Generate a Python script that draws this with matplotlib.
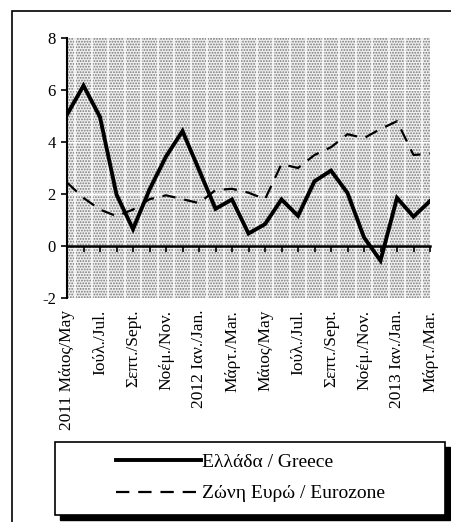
import matplotlib
matplotlib.use('Agg')
import matplotlib.pyplot as plt
from matplotlib.patches import Rectangle

plt.rcParams['font.family'] = ['Liberation Serif', 'DejaVu Serif']
plt.rcParams['axes.unicode_minus'] = False
plt.rcParams['hatch.color'] = '#787878'
plt.rcParams['hatch.linewidth'] = 0.9

# monthly values, May 2011 - Mar 2013
greece = [5.05, 6.17, 4.96, 1.98, 0.65, 2.17, 3.44, 4.42, 2.93, 1.43, 1.79, 0.48,
          0.84, 1.79, 1.16, 2.49, 2.90, 2.04, 0.33, -0.56, 1.85, 1.13, 1.73]
eurozone = [2.44, 1.85, 1.40, 1.15, 1.40, 1.80, 1.95, 1.80, 1.65, 2.15, 2.20, 2.05,
            1.80, 3.15, 3.00, 3.50, 3.80, 4.30, 4.15, 4.50, 4.80, 3.50, 3.55]
month_labels = ['2011 Μάιος/May', 'Ιούλ./Jul.', 'Σεπτ./Sept.', 'Νοέμ./Nov.',
                '2012 Ιαν./Jan.', 'Μάρτ./Mar.', 'Μάιος/May', 'Ιούλ./Jul.',
                'Σεπτ./Sept.', 'Νοέμ./Nov.', '2013 Ιαν./Jan.', 'Μάρτ./Mar.']
series_names = ['Ελλάδα / Greece', 'Ζώνη Ευρώ / Eurozone']

x = list(range(len(greece)))

fig = plt.figure(figsize=(4.51, 5.22), dpi=100)
ax = fig.add_axes([67/451, 1-298/522, (430-67)/451, (298-38)/522])

# dotted background with faint white stripes
ax.axvspan(x[0], x[-1], facecolor='#f0f0f0', hatch='......', edgecolor='#787878', lw=0, zorder=0)
for i in x[:-1]:
    ax.axvline(i + 0.5, color='white', lw=1.1, zorder=0.5)
for yy in [2, 4, 6]:
    ax.axhline(yy, color='white', lw=0.8, zorder=0.5)

ax.plot(x, greece, color='black', lw=2.8, solid_joinstyle='miter', zorder=3, label=series_names[0])
ax.plot(x, eurozone, color='black', lw=1.6, dashes=(6, 4), zorder=3, label=series_names[1])

ax.set_xlim(x[0], x[-1])
ax.set_ylim(-2, 8)
ax.set_yticks([-2, 0, 2, 4, 6, 8])
ax.tick_params(axis='y', direction='out', length=4, width=1.2, pad=4, labelsize=12)

ax.spines['top'].set_visible(False)
ax.spines['right'].set_visible(False)
ax.spines['left'].set_linewidth(1.5)
ax.spines['bottom'].set_position(('data', 0))
ax.spines['bottom'].set_linewidth(1.8)

ax.set_xticks(x[::2], month_labels, rotation=90)
ax.set_xticks(x[1::2], minor=True)
ax.tick_params(axis='x', which='both', direction='out', length=4, width=1.2)
ax.tick_params(axis='x', which='major', pad=42, labelsize=12.5)

# outer frame
fig.patches.append(Rectangle((12/451, -0.05), 1.2, 1-11/522+0.05, transform=fig.transFigure,
                             fill=False, edgecolor='black', lw=1.2))
# legend frame with shadow
fig.patches.append(Rectangle((60/451, 1-520/522), 390/451, 73/522, transform=fig.transFigure,
                             facecolor='black', edgecolor='black', lw=1))
fig.patches.append(Rectangle((55/451, 1-515/522), 390/451, 73/522, transform=fig.transFigure,
                             facecolor='white', edgecolor='black', lw=1.2))

h, l = ax.get_legend_handles_labels()
fig.legend(h, l, loc='center left', bbox_to_anchor=(98/451, 1-478/522), frameon=False,
           fontsize=14, handlelength=4.4, handletextpad=0.05, labelspacing=0.7)

fig.savefig('out.png', dpi=100)
